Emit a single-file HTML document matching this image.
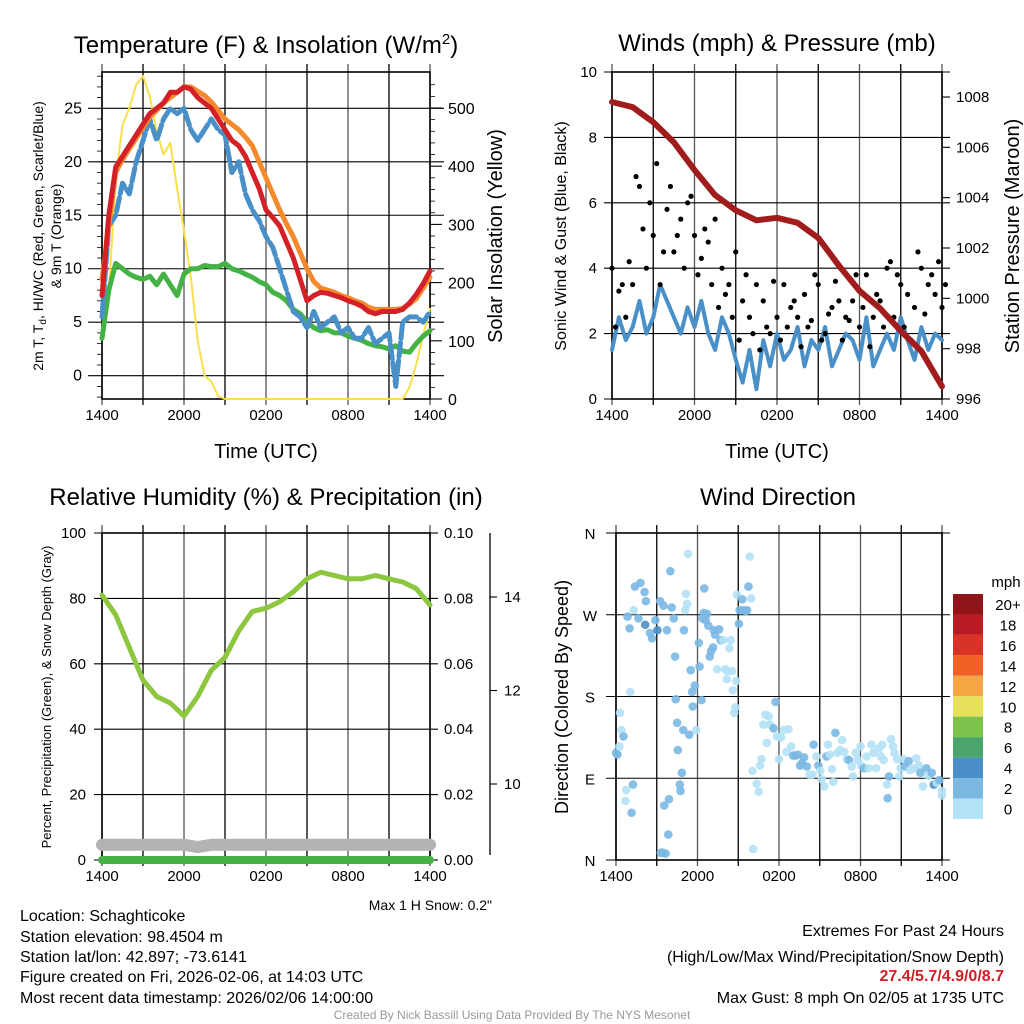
<!DOCTYPE html>
<html><head><meta charset="utf-8"><style>
html,body{margin:0;padding:0;background:#fff;}
svg{display:block;font-family:"Liberation Sans",sans-serif;}
</style></head><body>
<svg id="s" width="1024" height="1024" viewBox="0 0 1024 1024">
<text x="266" y="53" font-size="24" text-anchor="middle">Temperature (F) &amp; Insolation (W/m<tspan dy="-9" font-size="15">2</tspan><tspan dy="9">)</tspan></text>
<text x="777" y="51" font-size="24" text-anchor="middle">Winds (mph) &amp; Pressure (mb)</text>
<text x="266" y="505" font-size="24" text-anchor="middle">Relative Humidity (%) &amp; Precipitation (in)</text>
<text x="778" y="505" font-size="24" text-anchor="middle">Wind Direction</text>
<text x="266" y="458" font-size="20" text-anchor="middle">Time (UTC)</text>
<text x="777" y="458" font-size="20" text-anchor="middle">Time (UTC)</text>
<text transform="translate(43,236) rotate(-90)" font-size="14" text-anchor="middle">2m T, T<tspan font-size="10" dy="3">d</tspan><tspan dy="-3">, HI/WC (Red, Green, Scarlet/Blue)</tspan></text>
<text transform="translate(61,236) rotate(-90)" font-size="14" text-anchor="middle">&amp; 9m T (Orange)</text>
<text transform="translate(502,236) rotate(-90)" font-size="20" text-anchor="middle">Solar Insolation (Yellow)</text>
<text transform="translate(566,236) rotate(-90)" font-size="16" text-anchor="middle">Sonic Wind &amp; Gust (Blue, Black)</text>
<text transform="translate(1019,236) rotate(-90)" font-size="20" text-anchor="middle">Station Pressure (Maroon)</text>
<text transform="translate(51,697) rotate(-90)" font-size="13" text-anchor="middle">Percent, Precipitation (Green), &amp; Snow Depth (Gray)</text>
<text transform="translate(568,697) rotate(-90)" font-size="18" text-anchor="middle">Direction (Colored By Speed)</text>
<text x="492" y="910" font-size="14" text-anchor="end">Max 1 H Snow: 0.2"</text>
<g font-size="16">
<text x="20" y="921">Location: Schaghticoke</text>
<text x="20" y="942">Station elevation: 98.4504 m</text>
<text x="20" y="962">Station lat/lon: 42.897; -73.6141</text>
<text x="20" y="982">Figure created on Fri, 2026-02-06, at 14:03 UTC</text>
<text x="20" y="1003">Most recent data timestamp: 2026/02/06 14:00:00</text>
</g>
<g font-size="16" text-anchor="end">
<text x="1004" y="936">Extremes For Past 24 Hours</text>
<text x="1004" y="962">(High/Low/Max Wind/Precipitation/Snow Depth)</text>
<text x="1004" y="981" fill="#d42027" font-weight="bold">27.4/5.7/4.9/0/8.7</text>
<text x="1004" y="1003">Max Gust: 8 mph On 02/05 at 1735 UTC</text>
</g>
<text x="512" y="1019" font-size="12" fill="#999" text-anchor="middle">Created By Nick Bassill Using Data Provided By The NYS Mesonet</text>
</svg>
<script>
// ---- data ----
const hourLabels=['1400','2000','0200','0800','1400'];
const tempRed=[7.5,15,19.5,20.5,21.5,22.5,23.5,24.5,25,25.5,26.5,26.5,27,26.8,26,25.5,25,24,23,22,21.5,20.5,19,17.5,15.5,14.8,14,12.5,11,9,7,7.5,7.8,7.7,7.5,7.3,7,6.8,6.5,6,5.8,6,6,6,6.2,6.8,7.6,8.6,9.8];
const tempOrange=[9,14,19,20.2,21.2,22.2,23.2,24.2,24.8,25.5,26,26.5,27,27,26.6,26.2,25.6,24.8,24,23.5,23,22.3,21.5,20,18.5,17,15.5,14.2,13,11.5,10,8.8,8.2,8,7.8,7.5,7.3,7,6.8,6.4,6.2,6.2,6.2,6.2,6.3,6.7,7.2,8.2,9.2];
const tempGreen=[3.5,8,10.5,10,9.5,9.2,9,9.3,8.5,9.5,8.5,7.5,9.5,10,10,10.3,10.2,10.2,10.5,10,9.8,9.5,9.2,8.8,8.5,7.8,7.5,7,6.2,5.8,5,4.5,4.2,4.3,4,4,3.7,3.5,3.3,3,2.8,2.7,2.5,2.8,2.3,2.2,3,3.7,4.2];
const tempBlue=[5.5,14,15,18,17,20,22,24,22,24,25,24.5,25,23,22,23,24,23,22.5,19,20,17,15.5,14.5,13,12,10,8,6,5.5,4.5,6,4.5,5,5.5,4,4.5,3.5,3.5,4.5,3,3.5,4,-1,5,5.5,5.5,5,6];
const insolation=[140,180,380,470,500,540,555,520,460,420,440,360,290,210,100,40,30,5,0,0,0,0,0,0,0,0,0,0,0,0,0,0,0,0,0,0,0,0,0,0,0,0,0,0,0,20,60,110,155];
const windSpeed=[1.5,2.5,1.8,2.2,3.0,2.0,2.5,3.5,3.0,2.5,2.0,2.8,2.2,3.0,2.0,1.5,2.5,2.0,1.2,0.5,1.5,0.3,1.8,1.0,2.0,1.2,1.5,2.2,1.0,1.8,1.5,2.2,1.0,1.5,2.0,1.8,1.2,2.5,1.0,1.5,2.0,1.5,2.5,1.8,1.2,2.2,1.5,2.0,1.8];
const windGust=[4,3.3,2.5,3.5,6.5,4,5,3.5,5.8,4.5,5.5,6,5,4.3,4.8,5.5,4,3.5,4.5,3,2.5,3.5,3,2,2.5,3.5,2.8,2.5,3.2,2.4,3.5,2,2.8,3,2.5,3,2.2,3.8,2.5,3,4,2.5,3.5,3.2,2.8,4,3.5,3.2,2.8];
const windGust2=[2.2,3.5,4.2,6.8,5.2,6,7.2,4.5,6.5,5,4,6.2,3.8,5.2,3.5,2.8,3.2,2.5,1.8,3.8,2,1.5,2.2,3.6,1.8,2.2,3,1.6,2.2,3.8,1.8,2.6,3.6,1.8,2.4,3.8,2.8,1.6,3.2,2.2,4.2,3.8,2.2,1.8,4.5,2.6,3.8,4.2,3.5];
const pressure=[1007.8,1007.6,1007,1006.2,1005.1,1004.1,1003.5,1003.1,1003.2,1003,1002.4,1001.3,1000.3,999.6,998.7,997.9,996.5];
const rh=[81,75,65,55,50,48,44,50,58,62,70,76,77,79,82,86,88,87,86,86,87,86,85,83,78];
const precip=[0,0,0,0,0,0,0,0,0,0,0,0,0,0,0,0,0,0,0,0,0,0,0,0,0];
const snowDepth=[8.7,8.7,8.7,8.7,8.7,8.7,8.7,8.65,8.7,8.7,8.7,8.7,8.7,8.7,8.7,8.7,8.7,8.7,8.7,8.7,8.7,8.7,8.7,8.7,8.7];
const dirTimes=[0,0.1,0.25,0.3,0.4,0.55,0.75,0.7,1.05,1.15,1.25,0.85,1,1.4,1.8,2.1,2.2,1.3,1.65,2.15,2.5,2.65,2.9,3.05,3.25,3.5,3.75,4,4.1,4.25,4.35,4.4,4.5,4.55,4.7,4.75,4.85,4.95,3.55,3.9,3.85,3.3,3.65,3.45,5,5.1,5.15,5.25,5.3,5.4,5.5,5.6,5.65,5.8,5.9,6.1,6.15,6.3,6.35,6.45,6.5,6.6,6.7,6.8,6.9,7,7.15,7.2,7.3,7.45,7.6,7.7,7.9,8.05,8.15,8.2,8.35,8.45,8.55,8.6,8.7,8.8,8.85,8.9,9.05,9.1,9.3,9.35,9.55,9.65,9.75,9.85,9.95,10.1,10.05,10.35,10.5,10.6,10.7,10.85,11,11.1,11.25,11.35,11.6,11.75,11.85,12,12.15,12.35,12.55,12.7,12.9,13.05,13.2,13.4,13.55,13.7,13.85,14.05,14.25,14.45,14.55,14.75,14.9,15.05,15.15,15.35,15.5,15.6,15.75,15.9,16,16.15,16.3,16.5,16.65,16.8,17,17.15,17.35,17.45,17.65,17.8,18,18.05,18.25,18.45,18.6,18.8,18.95,19.15,19.35,19.5,19.6,19.7,19.95,20,20.1,20.25,20.4,20.5,20.7,20.85,20.95,21.15,21.3,21.55,21.65,21.9,22.1,22.3,22.4,22.6,22.85,23,23.25,23.4,23.6,23.8,24,24];
const dirDegrees=[118,116,125,162,143,136,77,65,185,52,83,268,255,301,305,295,285,275,266,259,250,244,264,253,285,280,253,318,278,266,224,177,151,121,83,76,96,143,60,67,28,8,7,8,253,275,293,282,337,138,209,185,169,192,143,239,213,176,266,272,299,264,271,258,224,230,234,253,248,210,254,242,242,210,199,208,233,242,208,187,162,168,197,292,260,275,287,275,274,275,301,334,288,12,98,84,75,104,111,149,160,129,158,149,145,174,136,111,135,143,119,144,125,115,115,116,104,107,113,103,94,94,127,114,104,98,89,81,114,127,116,100,86,140,118,121,132,119,111,110,103,92,118,110,125,104,101,114,101,127,118,101,123,114,127,110,83,68,92,133,125,118,111,92,101,111,103,109,99,101,112,104,96,81,101,93,96,83,85,88,76,71];
const dirSpeeds=[3,2,1,1,1,3,1,1,1,3,3,3,3,3,3,3,3,1,3,4,3,3,3,4,3,3,3,3,3,3,3,3,3,3,3,3,3,3,3,3,3,3,3,3,3,1,1,1,1,3,3,3,3,3,1,3,3,3,3,3,3,3,3,3,3,3,3,3,3,1,3,3,1,1,1,1,1,1,1,1,1,1,1,1,3,3,3,3,3,3,3,1,1,1,1,1,1,1,1,1,1,1,1,1,3,3,1,1,1,1,1,1,1,3,3,3,3,3,3,3,1,1,3,1,3,1,1,1,3,1,1,1,1,3,1,1,1,1,1,3,1,1,1,1,1,1,3,1,1,1,1,1,1,1,1,1,1,3,3,1,1,1,1,1,1,1,3,3,1,1,1,1,3,1,3,1,3,4,1,3,1,1,3,3,1,1];
const cbLabels=['20+','18','16','14','12','10','8','6','4','2','0'];
const cbColors=['#8f1518','#b81c22','#d93226','#ef6127','#f5a544','#e6e05a','#7cc24b','#4ba66e','#4a8fc7','#7ab8e3','#b4e2f6'];
// ---- helpers ----
const S=document.getElementById('s');const NS='http://www.w3.org/2000/svg';
function mk(tag,attrs,name){const el=document.createElementNS(NS,tag);for(const k in attrs)el.setAttribute(k,attrs[k]);


S.appendChild(el);return el;}
function ln(x1,y1,x2,y2,c,w,name){return mk('line',{x1,y1,x2,y2,stroke:c,'stroke-width':w},name);}
function tx(x,y,t,size,anchor,name){const e=mk('text',{x,y,'font-size':size,'text-anchor':anchor},name);e.textContent=t;return e;}
function poly(pts,c,w,name,extra){const e=mk('polyline',Object.assign({points:pts.map(p=>p[0].toFixed(1)+','+p[1].toFixed(1)).join(' '),fill:'none',stroke:c,'stroke-width':w,'stroke-linejoin':'round','stroke-linecap':'round'},extra||{}),name);return e;}
function scale(d0,d1,r0,r1){return v=>r0+(v-d0)/(d1-d0)*(r1-r0);}
function panel(L,R,T,B,name){
  for(let i=0;i<=8;i++){const x=L+(R-L)*i/8;ln(x,T-8,x,B+6,i%2?'#000':'#555',1.3,name+'-vgrid');}
  for(let i=0;i<5;i++){tx(L+(R-L)*i/4,B+21,hourLabels[i],15,'middle',name+'-xtick');}
  mk('rect',{x:L,y:T,width:R-L,height:B-T,fill:'none',stroke:'#000','stroke-width':1.6},name+'-frame');
}
// ===== Panel 1: temperature =====
{const L=102,R=430,T=72,B=399;const xs=scale(0,48,L,R);const ys=scale(0,25,375.7,108.3);const yi=scale(0,500,399,108);
 panel(L,R,T,B,'temp');
 for(let v=0;v<=25;v+=5){const y=ys(v);ln(L-14,y,R+14,y,'#000',1.1,'temp-hgrid');tx(L-20,y+5,String(v),16,'end','temp-ytick');}
 for(let v=-2;v<=28;v++){if(v%5)ln(L-5,ys(v),L,ys(v),'#000',0.8,'temp-minor-tick');}
 for(let v=0;v<=500;v+=100){const y=yi(v);ln(R,y,R+12,y,'#000',1.1,'insol-tick');tx(R+18,y+6,String(v),16,'start','insol-ytick');}
 for(let v=20;v<560;v+=20){if(v%100)ln(R,yi(v),R+5,yi(v),'#000',0.8,'insol-minor-tick');}
 poly(insolation.map((v,i)=>[xs(i),yi(v)]),'#f9e04b',2,'insolation-line');
 poly(tempGreen.map((v,i)=>[xs(i),ys(v)]),'#44b244',5,'dewpoint-line');
 poly(tempBlue.map((v,i)=>[xs(i),ys(v)]),'#4a90c8',5,'windchill-line',{'stroke-dasharray':'14 4'});
 poly(tempOrange.map((v,i)=>[xs(i),ys(v)]),'#f58a2c',5,'temp-9m-line');
 poly(tempRed.map((v,i)=>[xs(i),ys(v)]),'#d42027',5,'temp-2m-line');
}
// ===== Panel 2: winds =====
{const L=612,R=942,T=72,B=399;const xs=scale(0,48,L,R);const ys=scale(0,10,B,T);const xp=scale(0,16,L,R);const yp=scale(996,1008,B,97);
 panel(L,R,T,B,'winds');
 for(let v=0;v<=10;v+=2){const y=ys(v);ln(L-8,y,R+8,y,'#000',1.1,'winds-hgrid');tx(L-15,y+5,String(v),15,'end','winds-ytick');}
 for(let v=996;v<=1008;v+=2){const y=yp(v);ln(R,y,R+8,y,'#000',1.1,'pressure-tick');tx(R+14,y+5,String(v),15,'start','pressure-ytick');}
 poly(windSpeed.map((v,i)=>[xs(i),ys(v)]),'#4a90c8',4,'wind-speed-line');
 windGust.forEach((v,i)=>mk('circle',{cx:xs(i),cy:ys(v),r:2.6,fill:'#000'},'gust-point'));
 windGust2.forEach((v,i)=>mk('circle',{cx:xs(i+0.5),cy:ys(v),r:2.6,fill:'#000'},'gust-point'));
 poly(pressure.map((v,i)=>[xp(i),yp(v)]),'#a11c1c',6,'pressure-line');
}
// ===== Panel 3: RH =====
{const L=102,R=430,T=533,B=860;const xs=scale(0,24,L,R);const ys=scale(0,100,B,T);const yq=scale(0,0.1,B,T);const yd=scale(10,14,784,597);
 panel(L,R,T,B,'rh');
 for(let v=0;v<=100;v+=20){const y=ys(v);ln(L-8,y,R,y,'#000',1.1,'rh-hgrid');tx(L-16,y+5,String(v),15,'end','rh-ytick');}
 for(let v=0;v<=10;v+=2){const y=yq(v/100);ln(R,y,R+8,y,'#000',1.1,'precip-tick');tx(R+14,y+5,(v/100).toFixed(2),15,'start','precip-ytick');}
 ln(490,533,490,855,'#000',1.3,'snow-axis');
 for(let v=10;v<=14;v+=2){const y=yd(v);ln(490,y,497,y,'#000',1.1,'snow-tick');tx(504,y+5,String(v),15,'start','snow-ytick');}
 poly(snowDepth.map((v,i)=>[xs(i),yd(v)]),'#b3b3b3',12,'snow-depth-line');
 poly(precip.map((v,i)=>[xs(i),yq(v)]),'#44b244',8,'precip-line');
 poly(rh.map((v,i)=>[xs(i),ys(v)]),'#8dc63f',5,'rh-line');
}
// ===== Panel 4: wind direction =====
{const L=616,R=942,T=533,B=860;const xs=scale(0,24,L,R);const ys=scale(0,360,B,T);
 panel(L,R,T,B,'dir');
 const dl=['N','E','S','W','N'];
 for(let i=0;i<5;i++){const y=ys(i*90);ln(L-10,y,R+8,y,'#000',1.1,'dir-hgrid');tx(L-26,y+6,dl[i],15,'middle','dir-ytick');}
 const col=s=>s<2?'#b4e2f6':s<4?'#7ab8e3':'#4a8fc7';
 dirTimes.forEach((t,i)=>mk('circle',{cx:xs(t),cy:ys(dirDegrees[i]),r:4.3,fill:col(dirSpeeds[i]),'fill-opacity':0.9},'dir-point'));
 tx(1006,587,'mph',15,'middle','colorbar-title');
 const h=20.45;
 cbColors.forEach((c,i)=>{mk('rect',{x:953,y:594+i*h,width:30,height:h,fill:c},'colorbar-bin');});
 cbLabels.forEach((l,i)=>{tx(1008,594+i*h+16,l,15,'middle','colorbar-label');});
}
</script>
</body></html>
